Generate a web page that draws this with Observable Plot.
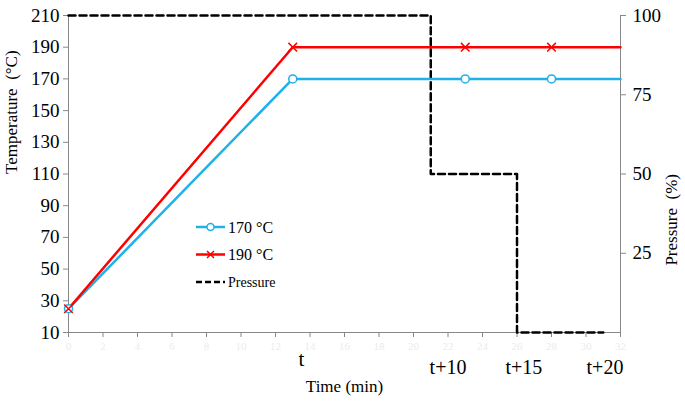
<!DOCTYPE html>
<html>
<head>
<meta charset="utf-8">
<script src="https://cdn.jsdelivr.net/npm/d3@7"></script>
<script src="https://cdn.jsdelivr.net/npm/@observablehq/plot@0.6"></script>
<style>
  body { margin: 0; background: #fff; }
  #wrap { position: relative; width: 685px; height: 402px; font-family: "Liberation Serif", serif; }
  #wrap svg text { font-family: "Liberation Serif", serif; }
  #legend { position: absolute; left: 192px; top: 214px; }
</style>
</head>
<body>
<div id="wrap"></div>
<script>
// ---- data ----
const lineTime = [0, 13, 23, 28, 32];
const temp170 = [25, 170, 170, 170, 170];
const temp190 = [25, 190, 190, 190, 190];
const markerCount = 4; // markers at 0, 13, 23, 28

const pressureTime = [0, 21, 21, 26, 26, 31];
const pressureVal = [100, 100, 50, 50, 0, 0];

const xTicks = d3.range(0, 33, 2);
const yTicks = d3.range(10, 211, 20);
const pTicks = [25, 50, 75, 100];

const annotLabels = ["t", "t+10", "t+15", "t+20"];
const annotX = [13.5, 22, 26.4, 31.1];

const seriesNames = ["170 °C", "190 °C", "Pressure"];
const seriesColors = ["#1fb1e9", "#ff0000", "#000000"];

const xTitle = "Time (min)";
const yTitle = "Temperature  (°C)";
const y2Title = "Pressure  (%)";

// pressure (%) -> temperature-scale mapping: 0% -> 10, 100% -> 210
const p2y = p => 10 + p * 2;

const t170 = lineTime.map((t, i) => ({t, v: temp170[i], i}));
const t190 = lineTime.map((t, i) => ({t, v: temp190[i], i}));
const press = pressureTime.map((t, i) => ({t, v: p2y(pressureVal[i])}));
const annots = annotLabels.map((s, i) => ({s, x: annotX[i], i}));

const serif = "Liberation Serif";

const chart = Plot.plot({
  width: 685,
  height: 402,
  marginLeft: 68,
  marginRight: 65,
  marginTop: 15,
  marginBottom: 70,
  style: {fontFamily: serif, fontSize: "16px", color: "#000", background: "#fff"},
  x: {domain: [0, 32]},
  y: {domain: [10, 210]},
  marks: [
    Plot.ruleX([0], {stroke: "#888"}),
    Plot.ruleX([32], {stroke: "#888"}),
    Plot.ruleY([10], {stroke: "#888"}),
    Plot.axisX({ticks: xTicks, tickSize: 5, stroke: "#888", fill: "#ececec", fontSize: 11, tickPadding: 5, label: null, fontFamily: serif}),
    Plot.axisY({ticks: yTicks, tickSize: 5, stroke: "#888", fill: "#000", fontSize: 19, tickPadding: 4, label: null, fontFamily: serif}),
    Plot.axisY({anchor: "right", ticks: pTicks.map(p2y), tickFormat: d => (d - 10) / 2, tickSize: 5,
      stroke: "#888", fill: "#000", fontSize: 19, tickPadding: 7, label: null, fontFamily: serif}),
    Plot.text([xTitle], {frameAnchor: "bottom", dy: 59, fontSize: 17, fill: "#000", fontFamily: serif}),
    Plot.text([yTitle], {frameAnchor: "left", rotate: -90, dx: -57, fontSize: 17, fill: "#000", fontFamily: serif}),
    Plot.text([y2Title], {frameAnchor: "right", rotate: -90, dx: 51, fontSize: 17, fill: "#000", fontFamily: serif}),
    Plot.line(press, {x: "t", y: "v", stroke: "#000", strokeWidth: 2.5, strokeDasharray: "7,4"}),
    Plot.line(t170, {x: "t", y: "v", stroke: seriesColors[0], strokeWidth: 2.5}),
    Plot.line(t190, {x: "t", y: "v", stroke: seriesColors[1], strokeWidth: 2.5}),
    Plot.dot(t170.filter(d => d.i < markerCount), {x: "t", y: "v", r: 4, stroke: seriesColors[0], strokeWidth: 1.5, fill: "#fff"}),
    Plot.dot(t190.filter(d => d.i < markerCount), {x: "t", y: "v", r: 4, symbol: "times", stroke: seriesColors[1], strokeWidth: 1.5}),
    Plot.text(annots.filter(d => d.i === 0), {x: "x", frameAnchor: "bottom", text: "s", dy: 33, fontSize: 21, fill: "#000", fontFamily: serif}),
    Plot.text(annots.filter(d => d.i > 0), {x: "x", frameAnchor: "bottom", text: "s", dy: 41, fontSize: 20, fill: "#000", fontFamily: serif})
  ]
});
document.getElementById("wrap").appendChild(chart);

// legend (inside plot area)
const lg = d3.select("#wrap").append("svg").attr("id", "legend").attr("width", 110).attr("height", 80);
seriesNames.forEach((name, i) => {
  const g = lg.append("g").attr("transform", `translate(0,${13 + i * 27.5})`);
  g.append("line").attr("x1", 4).attr("x2", 33).attr("y1", 0).attr("y2", 0)
    .attr("stroke", seriesColors[i]).attr("stroke-width", 2.5)
    .attr("stroke-dasharray", i === 2 ? "6,3" : null);
  if (i === 0) g.append("circle").attr("cx", 18.5).attr("cy", 0).attr("r", 3.5).attr("fill", "#fff").attr("stroke", seriesColors[0]).attr("stroke-width", 1.5);
  if (i === 1) g.append("path").attr("d", "M15,-3.5L22,3.5M15,3.5L22,-3.5").attr("stroke", seriesColors[1]).attr("stroke-width", 1.5);
  g.append("text").attr("x", 36).attr("y", 0).attr("dy", "0.35em")
    .attr("font-size", i === 2 ? 14 : 16).attr("font-family", serif)
    .text(name);
});
</script>
</body>
</html>
